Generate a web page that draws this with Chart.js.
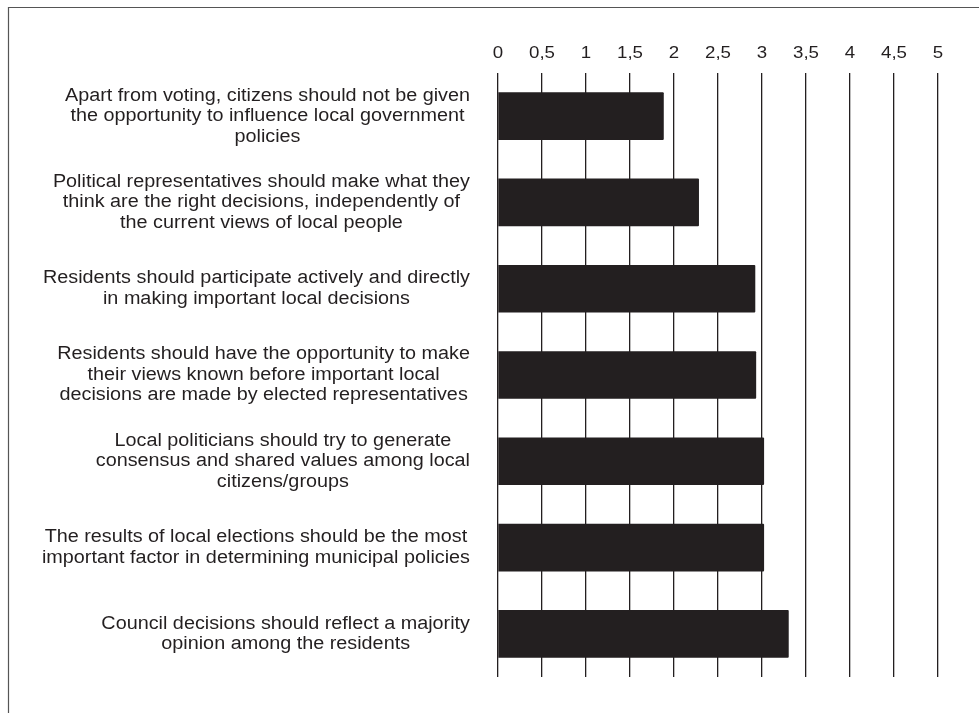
<!DOCTYPE html>
<html>
<head>
<meta charset="utf-8">
<script src="https://cdn.jsdelivr.net/npm/chart.js@4.4.1/dist/chart.umd.min.js"></script>
<style>
  html, body { margin: 0; padding: 0; background: #fff; }
  #wrap { position: relative; width: 979px; height: 713px; }
</style>
</head>
<body>
<div id="wrap"><canvas id="chart"></canvas></div>
<script>
// statements (each line of a label is one array entry)
const statements = [
  ['Apart from voting, citizens should not be given', 'the opportunity to influence local government', 'policies'],
  ['Political representatives should make what they', 'think are the right decisions, independently of', 'the current views of local people'],
  ['Residents should participate actively and directly', 'in making important local decisions'],
  ['Residents should have the opportunity to make', 'their views known before important local', 'decisions are made by elected representatives'],
  ['Local politicians should try to generate', 'consensus and shared values among local', 'citizens/groups'],
  ['The results of local elections should be the most', 'important factor in determining municipal policies'],
  ['Council decisions should reflect a majority', 'opinion among the residents']
];
const meanScores = [1.88, 2.28, 2.92, 2.93, 3.02, 3.02, 3.30];
const axisTicks = [0, 0.5, 1, 1.5, 2, 2.5, 3, 3.5, 4, 4.5, 5];

const INK = '#231f20';
const FONT = '"Liberation Sans", Arial, sans-serif';
const STRETCH = 1.1; // the original type is a bit wider than Arial

// labels are right aligned blocks, lines centred inside the block
const blockLabels = {
  id: 'blockLabels',
  afterDraw(chart) {
    const ctx = chart.ctx;
    const y = chart.scales.y;
    const right = chart.chartArea.left - 28;
    const lh = 20.5;
    ctx.save();
    ctx.font = '18px ' + FONT;
    ctx.fillStyle = INK;
    ctx.textAlign = 'center';
    ctx.textBaseline = 'middle';
    chart.data.labels.forEach((lines, i) => {
      const widest = Math.max(...lines.map(l => ctx.measureText(l).width)) * STRETCH;
      const cx = right - widest / 2;
      const cy = y.getPixelForValue(i);
      lines.forEach((l, k) => {
        ctx.save();
        ctx.translate(cx, cy + (k - (lines.length - 1) / 2) * lh);
        ctx.scale(STRETCH, 1);
        ctx.fillText(l, 0, 0);
        ctx.restore();
      });
    });

    // value axis labels, above the plot
    const x = chart.scales.x;
    ctx.font = '17px ' + FONT;
    x.ticks.forEach(t => {
      ctx.save();
      ctx.translate(x.getPixelForValue(t.value), chart.chartArea.top - 20);
      ctx.scale(STRETCH, 1);
      ctx.fillText(String(t.value).replace('.', ','), 0, 0);
      ctx.restore();
    });
    ctx.restore();
  }
};

// frame from the original figure (top and left edge only)
const frame = {
  id: 'frame',
  beforeDraw(chart) {
    const ctx = chart.ctx;
    ctx.save();
    ctx.strokeStyle = '#555';
    ctx.lineWidth = 1.2;
    ctx.beginPath();
    ctx.moveTo(8.5, chart.height);
    ctx.lineTo(8.5, 7.5);
    ctx.lineTo(chart.width, 7.5);
    ctx.stroke();
    ctx.restore();
  }
};

new Chart(document.getElementById('chart'), {
  type: 'bar',
  data: {
    labels: statements,
    datasets: [{
      data: meanScores,
      backgroundColor: INK,
      borderWidth: 0,
      borderRadius: 1,
      borderSkipped: 'start',
      barThickness: 47
    }]
  },
  options: {
    indexAxis: 'y',
    responsive: true,
    maintainAspectRatio: false,
    animation: false,
    layout: {
      padding: { left: 0, right: 41, top: 73, bottom: 36 }
    },
    plugins: {
      legend: { display: false },
      tooltip: { enabled: false }
    },
    scales: {
      x: {
        position: 'top',
        min: 0,
        max: 5,
        afterBuildTicks: scale => {
          scale.ticks = axisTicks.map(v => ({ value: v }));
        },
        ticks: { display: false },
        grid: {
          color: INK,
          lineWidth: 1.3,
          drawTicks: false
        },
        border: { display: false },
        afterFit: scale => { scale.height = 0; }
      },
      y: {
        ticks: { display: false },
        grid: { display: false },
        border: { display: false },
        afterFit: scale => { scale.width = 498; }
      }
    }
  },
  plugins: [frame, blockLabels]
});
</script>
</body>
</html>
